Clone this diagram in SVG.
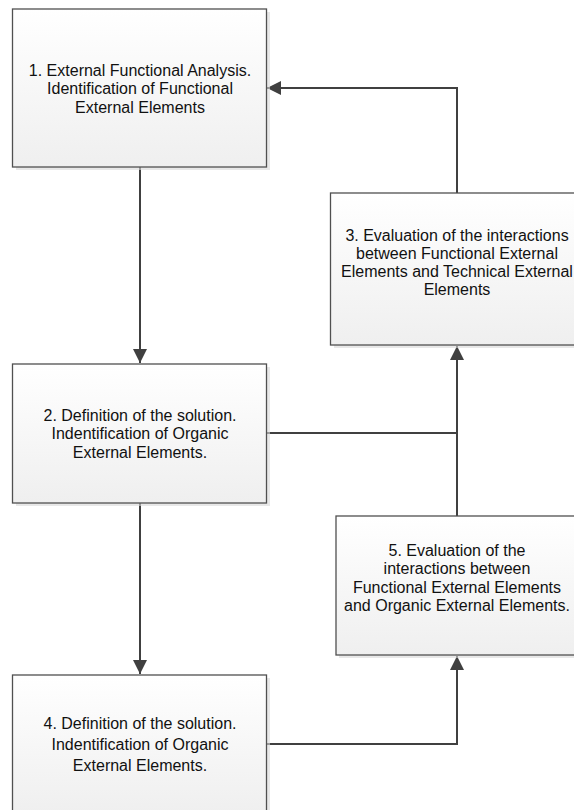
<svg xmlns="http://www.w3.org/2000/svg" width="574" height="810" viewBox="0 0 574 810">
<defs>
<linearGradient id="g" x1="0" y1="0" x2="0" y2="1">
<stop offset="0" stop-color="#ffffff"/>
<stop offset="1" stop-color="#efefef"/>
</linearGradient>
<marker id="ah2" viewBox="0 0 12 12" refX="12" refY="6" markerWidth="14" markerHeight="14" markerUnits="userSpaceOnUse" orient="auto">
<path d="M0,0 L12,6 L0,12 Z" fill="#404040"/>
</marker>
</defs>
<style>
.sh{fill:#d9d9d9;opacity:0.6}
.bx{fill:url(#g);stroke:#505050;stroke-width:1.3}
.t{font-family:"Liberation Sans",Arial,sans-serif;font-size:16px;fill:#111111;text-anchor:middle}
.c{fill:none;stroke:#404040;stroke-width:2}
</style>
<g id="connectors">
<path class="c" d="M140,167 L140,363" marker-end="url(#ah2)"/>
<path class="c" d="M140,503 L140,674" marker-end="url(#ah2)"/>
<path class="c" d="M457,193 L457,88 L267,88" marker-end="url(#ah2)"/>
<path class="c" d="M266,433 L457,433 L457,346" marker-end="url(#ah2)"/>
<path class="c" d="M457,516 L457,433"/>
<path class="c" d="M266,744 L457,744 L457,656" marker-end="url(#ah2)"/>
</g>
<g id="n1">
<rect class="sh" x="16" y="12" width="254" height="158"/>
<rect class="bx" x="12.5" y="9" width="254" height="158"/>
<text class="t" x="140" y="76">1. External Functional Analysis.</text>
<text class="t" x="140" y="94">Identification of Functional</text>
<text class="t" x="140" y="113">External Elements</text>
</g>
<g id="n3">
<rect class="sh" x="334" y="196" width="250" height="152"/>
<rect class="bx" x="330.5" y="193" width="250" height="152"/>
<text class="t" x="457" y="241">3. Evaluation of the interactions</text>
<text class="t" x="457" y="259">between Functional External</text>
<text class="t" x="457" y="277">Elements and Technical External</text>
<text class="t" x="457" y="295">Elements</text>
</g>
<g id="n2">
<rect class="sh" x="16" y="367" width="254" height="139"/>
<rect class="bx" x="12.5" y="364" width="254" height="139"/>
<text class="t" x="140" y="421">2. Definition of the solution.</text>
<text class="t" x="140" y="439">Indentification of Organic</text>
<text class="t" x="140" y="458">External Elements.</text>
</g>
<g id="n5">
<rect class="sh" x="339" y="519" width="250" height="139"/>
<rect class="bx" x="336" y="516" width="250" height="139"/>
<text class="t" x="457" y="556">5. Evaluation of the</text>
<text class="t" x="457" y="574">interactions between</text>
<text class="t" x="457" y="593">Functional External Elements</text>
<text class="t" x="457" y="611">and Organic External Elements.</text>
</g>
<g id="n4">
<rect class="sh" x="16" y="678" width="254" height="139"/>
<rect class="bx" x="12.5" y="675" width="254" height="139"/>
<text class="t" x="140" y="729">4. Definition of the solution.</text>
<text class="t" x="140" y="750">Indentification of Organic</text>
<text class="t" x="140" y="771">External Elements.</text>
</g>
</svg>
